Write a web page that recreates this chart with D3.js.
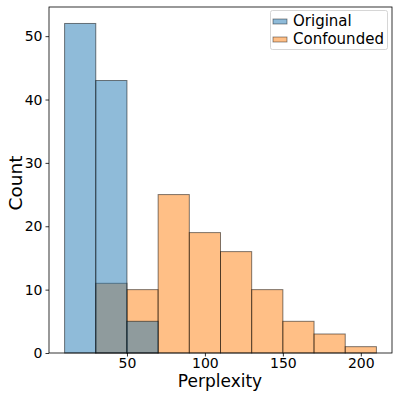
<!DOCTYPE html>
<html><head><meta charset="utf-8">
<script src="https://cdn.jsdelivr.net/npm/d3@7"></script>
<style>body{margin:0;background:#fff}svg{display:block}text{font-family:"DejaVu Sans",sans-serif;fill:#000}</style>
</head><body>
<svg id="c" width="399" height="399"></svg>
<script>
const binEdges = [10,30,50,70,90,110,130,150,170,190,210];
const originalCounts = [52,43,5,0,0,0,0,0,0,0];
const confoundedCounts = [0,11,10,25,19,16,10,5,3,1];
const xTicks = [50,100,150,200];
const yTicks = [0,10,20,30,40,50];
const seriesNames = ["Original","Confounded"];
const colors = {Original:"#1f77b4", Confounded:"#ff7f0e"};

const svg = d3.select("#c");
const L=49,R=392,T=7,B=353;
const x = d3.scaleLinear().domain([0,220]).range([L,R]);
const y = d3.scaleLinear().domain([0,54.6]).range([B,T]);

function drawSeries(name, counts){
  const data = counts.map((c,i)=>({x0:binEdges[i],x1:binEdges[i+1],c})).filter(d=>d.c>0);
  svg.append("g").selectAll("rect").data(data).join("rect")
    .attr("x",d=>x(d.x0)).attr("width",d=>x(d.x1)-x(d.x0))
    .attr("y",d=>y(d.c)).attr("height",d=>y(0)-y(d.c))
    .attr("fill",colors[name]).attr("fill-opacity",0.5)
    .attr("stroke","#000").attr("stroke-opacity",0.5).attr("stroke-width",1);
}
drawSeries("Confounded", confoundedCounts);
drawSeries("Original", originalCounts);

// axes
const xa = svg.append("g").attr("transform",`translate(0,${B})`)
  .call(d3.axisBottom(x).tickValues(xTicks).tickSize(3.5).tickPadding(2));
const ya = svg.append("g").attr("transform",`translate(${L},0)`)
  .call(d3.axisLeft(y).tickValues(yTicks).tickSize(3.5).tickPadding(3));
[xa,ya].forEach(a=>{
  a.select(".domain").remove();
  a.selectAll("line").attr("stroke","#000").attr("stroke-width",0.8);
  a.selectAll("text").attr("font-size","14px").attr("font-family","DejaVu Sans").attr("fill","#000");
});
// frame
svg.append("rect").attr("x",L).attr("y",T).attr("width",R-L).attr("height",B-T)
  .attr("fill","none").attr("stroke","#000").attr("stroke-width",0.8);

svg.append("text").attr("x",220).attr("y",387).attr("text-anchor","middle")
  .attr("font-size","17px").text("Perplexity");
svg.append("text").attr("transform",`translate(22,183) rotate(-90)`).attr("text-anchor","middle")
  .attr("font-size","18.5px").text("Count");

// legend
const lg = svg.append("g");
lg.append("rect").attr("x",270.5).attr("y",10.5).attr("width",117).attr("height",39).attr("rx",2)
  .attr("fill","#fff").attr("fill-opacity",0.8).attr("stroke","#ccc").attr("stroke-width",0.8);
seriesNames.forEach((n,i)=>{
  const yy = 19 + i*18;
  lg.append("rect").attr("x",273).attr("y",yy).attr("width",14).attr("height",5)
    .attr("fill",colors[n]).attr("fill-opacity",0.5).attr("stroke","#000").attr("stroke-opacity",0.5).attr("stroke-width",0.8);
  lg.append("text").attr("x",293).attr("y",yy+7).attr("font-size","15px").text(n);
});
</script>
</body></html>
